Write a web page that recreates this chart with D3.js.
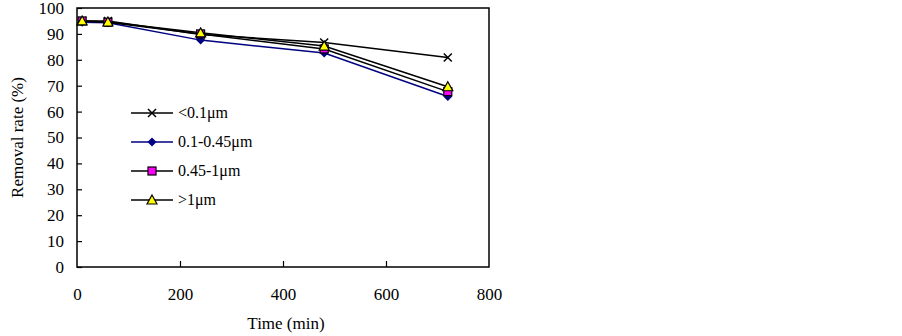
<!DOCTYPE html>
<html>
  <head>
    <meta charset="utf-8">
    <title>Removal rate</title>
    <script src="https://cdn.jsdelivr.net/npm/d3@7"></script>
    <style>
      body { margin: 0; background: #fff; }
      svg { display: block; }
    </style>
  </head>
  <body>
    <svg id="chart" width="902" height="336"></svg>

    <script>
      // data
      times = [10, 60, 240, 480, 720];
      seriesNames = ["<0.1\u03bcm", "0.1-0.45\u03bcm", "0.45-1\u03bcm", ">1\u03bcm"];
      under01 = [95, 95, 89.8, 86.7, 80.9];
      from01to045 = [94.5, 94.3, 87.6, 82.6, 65.8];
      from045to1 = [95, 94.5, 90, 84.2, 67.7];
      over1 = [95, 94.6, 90.4, 85.3, 69.6];
      xTicks = [0, 200, 400, 600, 800];
      yTicks = [0, 10, 20, 30, 40, 50, 60, 70, 80, 90, 100];

      serif = "'Liberation Serif', 'Times New Roman', Times, serif";

      series = [
        { name: seriesNames[0], values: under01, line: "#000", marker: "x", fill: "none" },
        { name: seriesNames[1], values: from01to045, line: "#000080", marker: "diamond", fill: "#000080" },
        { name: seriesNames[2], values: from045to1, line: "#000", marker: "square", fill: "#ff00ff" },
        { name: seriesNames[3], values: over1, line: "#000", marker: "triangle", fill: "#ffff00" }
      ];

      chart = d3.select("#chart");
      margin = { top: 8, left: 77, right: 489, bottom: 267 };

      x = d3.scaleLinear().domain([0, 800]).range([margin.left, margin.right]);
      y = d3.scaleLinear().domain([0, 100]).range([margin.bottom, margin.top]);

      // frame
      chart.append("rect")
        .attr("x", margin.left)
        .attr("y", margin.top)
        .attr("width", margin.right - margin.left)
        .attr("height", margin.bottom - margin.top)
        .attr("fill", "none")
        .attr("stroke", "#000")
        .attr("stroke-width", 1.5);

      // axes (inward ticks)
      yAxis = d3.axisLeft(y)
        .tickValues(yTicks)
        .tickSizeInner(-5)
        .tickSizeOuter(0)
        .tickPadding(13);
      chart.append("g")
        .attr("transform", "translate(" + margin.left + ",0)")
        .call(yAxis)
        .attr("font-family", serif)
        .attr("font-size", 17)
        .call(g => g.select(".domain").remove())
        .call(g => g.selectAll(".tick line").attr("stroke-width", 1.2));

      xAxis = d3.axisBottom(x)
        .tickValues(xTicks)
        .tickSizeInner(-6)
        .tickSizeOuter(0)
        .tickPadding(21);
      chart.append("g")
        .attr("transform", "translate(0," + margin.bottom + ")")
        .call(xAxis)
        .attr("font-family", serif)
        .attr("font-size", 17)
        .call(g => g.select(".domain").remove())
        .call(g => g.selectAll(".tick line")
          .attr("stroke-width", 1.2)
          .attr("display", d => (d == 0 || d == 800) ? "none" : null));

      // axis titles
      chart.append("text")
        .attr("x", (margin.left + margin.right) / 2 + 3)
        .attr("y", 329)
        .attr("text-anchor", "middle")
        .attr("font-family", serif)
        .attr("font-size", 17)
        .text("Time (min)");

      chart.append("text")
        .attr("transform", "translate(23," + ((margin.top + margin.bottom) / 2) + ") rotate(-90)")
        .attr("text-anchor", "middle")
        .attr("font-family", serif)
        .attr("font-size", 17)
        .text("Removal rate (%)");

      // markers
      function drawMarker(g, type, fill) {
        if (type == "x") {
          g.append("path")
            .attr("d", "M-4,-4L4,4M-4,4L4,-4")
            .attr("stroke", "#000")
            .attr("stroke-width", 1.5);
        } else if (type == "diamond") {
          g.append("path")
            .attr("d", "M0,-4.5L4.5,0L0,4.5L-4.5,0Z")
            .attr("fill", fill);
        } else if (type == "square") {
          g.append("rect")
            .attr("x", -4).attr("y", -4)
            .attr("width", 8).attr("height", 8)
            .attr("fill", fill)
            .attr("stroke", "#000")
            .attr("stroke-width", 1.2);
        } else if (type == "triangle") {
          g.append("path")
            .attr("d", "M0,-5L5,4L-5,4Z")
            .attr("fill", fill)
            .attr("stroke", "#000")
            .attr("stroke-width", 1.2);
        }
      }

      line = d3.line()
        .x((d, i) => x(times[i]))
        .y(d => y(d));

      lineGroup = chart.append("g");
      series.forEach(s => {
        lineGroup.append("path")
          .datum(s.values)
          .attr("d", line)
          .attr("fill", "none")
          .attr("stroke", s.line)
          .attr("stroke-width", 1.5);
      });

      series.forEach(s => {
        s.values.forEach((v, i) => {
          let g = chart.append("g")
            .attr("transform", "translate(" + x(times[i]) + "," + y(v) + ")");
          drawMarker(g, s.marker, s.fill);
        });
      });

      // legend
      legend = chart.append("g");
      series.forEach((s, i) => {
        let ly = 113 + i * 29;
        legend.append("line")
          .attr("x1", 131).attr("x2", 173)
          .attr("y1", ly).attr("y2", ly)
          .attr("stroke", s.line)
          .attr("stroke-width", 1.5);
        let g = legend.append("g")
          .attr("transform", "translate(152," + ly + ")");
        drawMarker(g, s.marker, s.fill);
        legend.append("text")
          .attr("x", 178)
          .attr("y", ly + 5)
          .attr("font-family", serif)
          .attr("font-size", 16)
          .text(s.name);
      });
    </script>
  </body>
</html>
